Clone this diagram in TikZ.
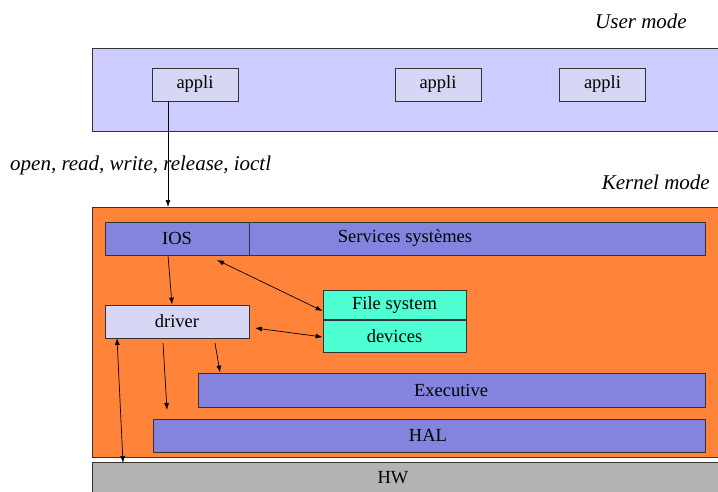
\documentclass[tikz,border=0pt]{standalone}
\usepackage{fontspec}
\setmainfont{Liberation Serif}
\usetikzlibrary{arrows.meta}
\definecolor{userbg}{HTML}{CCCCFF}
\definecolor{applibg}{HTML}{D6D6F5}
\definecolor{kernelbg}{HTML}{FF843A}
\definecolor{layerbg}{HTML}{8484DE}
\definecolor{fsbg}{HTML}{4DFFD2}
\definecolor{hwbg}{HTML}{B3B3B3}
\definecolor{edge}{HTML}{333333}
\tikzset{
  panel/.style={draw=edge, line width=0.8pt},
  box/.style={draw=edge, line width=0.8pt, inner sep=0pt, font=\fontsize{18.5}{20}\selectfont},
  lbl/.style={inner sep=0pt, font=\fontsize{18.5}{20}\selectfont},
  modelbl/.style={inner sep=0pt, font=\fontsize{21}{23}\selectfont\itshape},
  link/.style={-{Latex[length=7pt,width=5pt]}, line width=0.7pt},
  dlink/.style={{Latex[length=7pt,width=5pt]}-{Latex[length=7pt,width=5pt]}, line width=0.7pt},
}
\begin{document}
\begin{tikzpicture}[x=1pt, y=-1pt]
  \useasboundingbox (0,0) rectangle (718,491);

  % user space
  \node[modelbl, anchor=east] (usermode) at (687,21) {User mode};
  \draw[panel, fill=userbg] (92,48) rectangle (722,131);
  \node[box, fill=applibg, minimum width=86pt, minimum height=33pt] (app1) at (195,84.5) {appli};
  \node[box, fill=applibg, minimum width=86pt, minimum height=33pt] (app2) at (438,84.5) {appli};
  \node[box, fill=applibg, minimum width=86pt, minimum height=33pt] (app3) at (602.5,84.5) {appli};

  \node[modelbl, anchor=west] (calls) at (10,165) {open, read, write, release, ioctl};
  \node[modelbl, anchor=east] (kernelmode) at (710,182) {Kernel mode};

  % kernel space
  \draw[panel, fill=kernelbg] (92,207) rectangle (722,457);
  \coordinate (kerneltop) at (168,207);

  \node[box, fill=layerbg, minimum width=144pt, minimum height=33pt] (ios) at (177,238.5) {IOS};
  \node[box, fill=layerbg, minimum width=456pt, minimum height=33pt] (svc) at (477,238.5) {};
  \node[lbl] (svclbl) at (405,238.5) {Services systèmes};

  \node[box, fill=fsbg, minimum width=143pt, minimum height=29.5pt] (fs) at (394.5,305) {File system};
  \node[box, fill=fsbg, minimum width=143pt, minimum height=32pt] (dev) at (394.5,336) {devices};

  \node[box, fill=applibg, minimum width=144pt, minimum height=33pt] (driver) at (177,321.5) {driver};

  \node[box, fill=layerbg, minimum width=507pt, minimum height=34pt] (exec) at (451.5,390) {};
  \node[lbl] (execlbl) at (451,390) {Executive};

  \node[box, fill=layerbg, minimum width=552pt, minimum height=33pt] (hal) at (429,435.5) {};
  \node[lbl] (hallbl) at (428,435.5) {HAL};

  % hardware
  \draw[panel, fill=hwbg] (92,462) rectangle (722,495);
  \node[lbl] (hw) at (393,478) {HW};

  % connectors
  \draw[link] (app1.south -| kerneltop) -- (kerneltop);
  \draw[link] ([xshift=-9pt]ios.south) -- ([xshift=-5pt]driver.north);
  \coordinate (iosfs) at (217,260);
  \draw[dlink] (iosfs) -- ([yshift=-6pt]fs.west);
  \coordinate (drvdev) at (255,328);
  \draw[dlink] (drvdev) -- ([yshift=-1pt]dev.west);
  \coordinate (drvhal) at (163,343);
  \coordinate (halend) at (167,410);
  \draw[link] (drvhal) -- (halend);
  \coordinate (drvexec) at (215,343);
  \draw[link] (drvexec) -- ([xshift=-231.5pt]exec.north);
  \coordinate (drvlow) at (117,338);
  \coordinate (hwtop) at (123,463);
  \draw[dlink] (drvlow) -- (hwtop);
\end{tikzpicture}
\end{document}
